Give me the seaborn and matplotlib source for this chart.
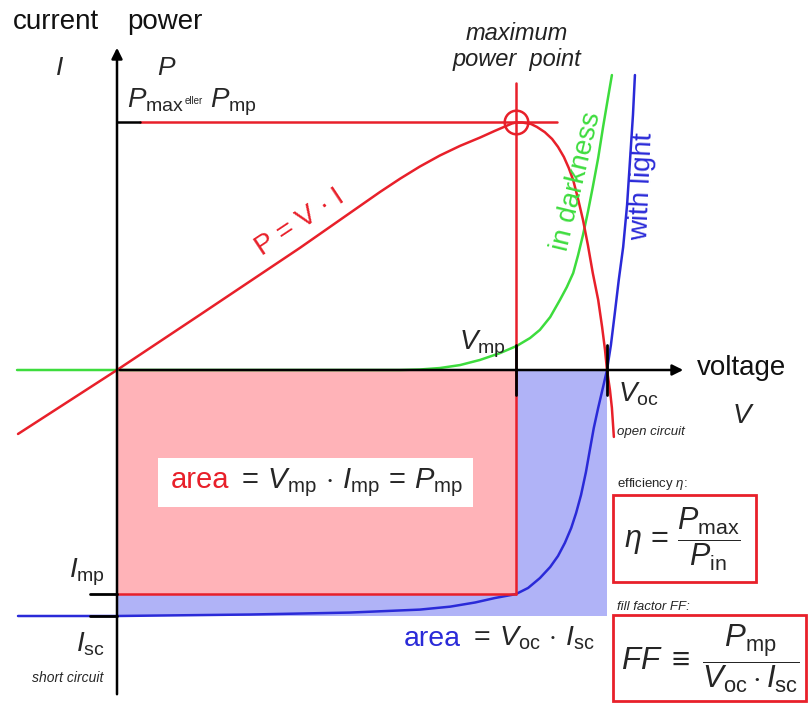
import numpy as np
import pandas as pd
import seaborn as sns
import matplotlib.pyplot as plt
from matplotlib.patches import Rectangle

# voltage is scaled so that V_oc = 1, current so that I_sc = 1 (drawn downward),
# power shares the vertical scale of the current axis
power_v = [-0.202, 0.0, 0.169, 0.373, 0.537, 0.578, 0.618, 0.659, 0.700, 0.741, 0.771, 0.792,
           0.806, 0.814, 0.827, 0.845, 0.857, 0.873, 0.888, 0.900, 0.912, 0.922, 0.931, 0.941,
           0.951, 0.961, 0.971, 0.982, 0.990, 0.996, 1.000, 1.006, 1.010, 1.014]
power_p = [-0.260, 0.0, 0.224, 0.496, 0.724, 0.778, 0.827, 0.872, 0.911, 0.945, 0.972, 0.990,
           1.002, 1.006, 1.006, 1.000, 0.988, 0.967, 0.939, 0.907, 0.866, 0.821, 0.772, 0.695,
           0.610, 0.508, 0.394, 0.285, 0.175, 0.081, 0.0, -0.081, -0.154, -0.272]

dark_v = [-0.204, 0.578, 0.618, 0.659, 0.700, 0.741, 0.782, 0.816, 0.843, 0.863, 0.884,
          0.904, 0.918, 0.931, 0.941, 0.951, 0.961, 0.971, 0.982, 0.992, 1.002, 1.010]
dark_i = [0.0, 0.0, 0.002, 0.008, 0.020, 0.041, 0.069, 0.098, 0.130, 0.163, 0.215,
          0.285, 0.337, 0.394, 0.467, 0.549, 0.642, 0.744, 0.862, 0.988, 1.106, 1.199]

light_v = [-0.202, 0.0, 0.271, 0.476, 0.618, 0.680, 0.731, 0.771, 0.814, 0.839, 0.863, 0.884,
           0.900, 0.914, 0.927, 0.937, 0.947, 0.957, 0.965, 0.973, 0.982, 0.992, 1.000,
           1.008, 1.016, 1.024, 1.033, 1.041, 1.047, 1.053, 1.057]
light_i = [-1.0, -1.0, -0.994, -0.986, -0.974, -0.962, -0.945, -0.927, -0.911, -0.886, -0.846, -0.801,
           -0.756, -0.703, -0.642, -0.581, -0.508, -0.415, -0.325, -0.236, -0.154, -0.069, 0.0,
           0.102, 0.232, 0.366, 0.500, 0.671, 0.854, 1.037, 1.199]

V_OC = 1.0
V_MP = 0.814
I_SC = -1.0
I_MP = -0.911
P_MAX = 1.008

RED = '#e8202a'
GREEN = '#3ddc3d'
BLUE = '#2a2ad8'
PINK = '#ffb3b8'
LAVENDER = '#b0b3f7'


def at(px, py):
    # picture pixel -> diagram units (origin at 117,370)
    return (px - 117) / 490, (370 - py) / 246


sns.set_theme(style="white")
plt.rcParams['font.family'] = ['Liberation Sans', 'DejaVu Sans']
plt.rcParams['mathtext.fontset'] = 'custom'
plt.rcParams['mathtext.rm'] = 'Liberation Sans'
plt.rcParams['mathtext.it'] = 'Liberation Sans:italic'
plt.rcParams['mathtext.bf'] = 'Liberation Sans:bold'

fig = plt.figure(figsize=(8.08, 7.03), dpi=100)
ax = fig.add_axes([0, 0, 1, 1])
ax.set_xlim(-117 / 490, 691 / 490)
ax.set_ylim(-333 / 246, 370 / 246)
ax.axis('off')

# areas
ax.add_patch(Rectangle((0, I_SC), V_OC, -I_SC, fc=LAVENDER, ec='none', zorder=1))
ax.add_patch(Rectangle((0, I_MP), V_MP, -I_MP, fc=PINK, ec='none', zorder=1.1))
x0, y0 = at(158, 507)
ax.add_patch(Rectangle((x0, y0), (473 - 158) / 490, (507 - 458) / 246, fc='white', ec='none', zorder=1.2))

# curves
df_p = pd.DataFrame({'V': power_v, 'P': power_p})
df_d = pd.DataFrame({'V': dark_v, 'I': dark_i})
df_l = pd.DataFrame({'V': light_v, 'I': light_i})
sns.lineplot(data=df_d, x='V', y='I', ax=ax, color=GREEN, lw=1.8, sort=False, estimator=None, zorder=3)
sns.lineplot(data=df_l, x='V', y='I', ax=ax, color=BLUE, lw=1.8, sort=False, estimator=None, zorder=3)
sns.lineplot(data=df_p, x='V', y='P', ax=ax, color=RED, lw=1.8, sort=False, estimator=None, zorder=3.2)

# maximum power point guides
ax.plot([at(140, 0)[0], at(557, 0)[0]], [P_MAX, P_MAX], color=RED, lw=1.8, zorder=3)
ax.plot([0, at(140, 0)[0]], [P_MAX, P_MAX], color='black', lw=1.8, zorder=3)
ax.plot([V_MP, V_MP], [I_MP, at(0, 83)[1]], color=RED, lw=1.8, zorder=3)
ax.plot([0, V_MP], [I_MP, I_MP], color=RED, lw=1.8, zorder=3)
ax.plot([V_MP], [P_MAX], marker='o', ms=17, mfc='none', mec=RED, mew=1.8, zorder=3.5)

# axes
ax.annotate('', xy=at(117, 45), xytext=at(117, 697),
            arrowprops=dict(arrowstyle='-|>', color='black', lw=1.8, mutation_scale=16), zorder=4)
ax.annotate('', xy=at(686, 370), xytext=(0, 0),
            arrowprops=dict(arrowstyle='-|>', color='black', lw=1.8, mutation_scale=16), zorder=4)
for v in [V_MP, V_OC]:
    ax.plot([v, v], [at(0, 345)[1], at(0, 395)[1]], color='black', lw=2, zorder=4)
for i in [I_MP, I_SC]:
    ax.plot([at(90, 0)[0], 0], [i, i], color='black', lw=2, zorder=4)

# labels
def lab(px, py, s, **kw):
    kw.setdefault('va', 'baseline')
    kw.setdefault('ha', 'left')
    kw.setdefault('zorder', 5)
    ax.text(*at(px, py), s, **kw)

lab(13, 29, 'current', fontsize=20, color='#111111')
lab(127, 29, 'power', fontsize=20, color='#111111')
lab(60, 75, '$I$', fontsize=19, ha='center')
lab(157, 75, '$P$', fontsize=19)
lab(127, 107, r'$P_{\mathrm{max}}$', fontsize=20)
lab(185, 104, 'eller', fontsize=7)
lab(210, 107, r'$P_{\mathrm{mp}}$', fontsize=20)
lab(517, 40, 'maximum', fontsize=17, style='italic', ha='center', color='#222222')
lab(517, 66, 'power  point', fontsize=17, style='italic', ha='center', color='#222222')

ax.text(*at(300, 222), 'P = V · I', fontsize=20, color=RED,
        rotation=33.5, ha='center', va='center', zorder=5)
ax.text(*at(577, 181), 'in darkness', fontsize=20, color=GREEN,
        rotation=76.5, ha='center', va='center', zorder=5)
ax.text(*at(642, 187), 'with light', fontsize=20, color=BLUE,
        rotation=87.5, ha='center', va='center', zorder=5)

lab(459, 350, r'$V_{\mathrm{mp}}$', fontsize=20)
lab(697, 375, 'voltage', fontsize=20, color='#111111')
lab(618, 402, r'$V_{\mathrm{oc}}$', fontsize=20)
lab(743, 423, '$V$', fontsize=20, ha='center')
lab(617, 435, 'open circuit', fontsize=9.5, style='italic')

lab(105, 577, r'$I_{\mathrm{mp}}$', fontsize=20, ha='right')
lab(105, 651, r'$I_{\mathrm{sc}}$', fontsize=20, ha='right')
lab(68, 682, 'short circuit', fontsize=10, style='italic', ha='center')

lab(229, 488, 'area', fontsize=21, color=RED, ha='right')
lab(237, 488, r'$=\, V_{\mathrm{mp}}\,\cdot\,I_{\mathrm{mp}}\,=\,P_{\mathrm{mp}}$', fontsize=21)
lab(461, 646, 'area', fontsize=20.5, color=BLUE, ha='right')
lab(469, 646, r'$=\, V_{\mathrm{oc}}\,\cdot\,I_{\mathrm{sc}}$', fontsize=20.5)

# efficiency and fill factor boxes
lab(617, 487, r'efficiency $\eta$:', fontsize=9.5)
bx, by = at(613, 582)
ax.add_patch(Rectangle((bx, by), (756 - 613) / 490, (582 - 495) / 246, fc='white', ec=RED, lw=2, zorder=4))
ax.text(*at(682, 539), r'$\eta\,=\,\dfrac{P_{\mathrm{max}}}{P_{\mathrm{in}}}$', fontsize=22,
        ha='center', va='center', zorder=5)
lab(617, 610, 'fill factor FF:', fontsize=9.5, style='italic')
bx, by = at(613, 701)
ax.add_patch(Rectangle((bx, by), (806 - 613) / 490, (701 - 615) / 246, fc='white', ec=RED, lw=2, zorder=4))
ax.text(*at(710, 659), r'$FF\;\equiv\;\dfrac{P_{\mathrm{mp}}}{V_{\mathrm{oc}} \cdot I_{\mathrm{sc}}}$',
        fontsize=22.5, ha='center', va='center', zorder=5)

fig.savefig('out.png', dpi=100)
